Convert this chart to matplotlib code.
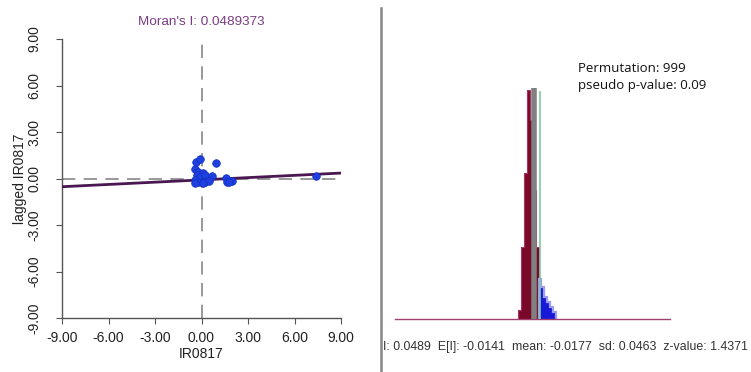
import matplotlib
matplotlib.use("Agg")
import matplotlib.pyplot as plt
import numpy as np

plt.rcParams['font.family'] = ['Liberation Sans', 'DejaVu Sans']

# ---- data: Moran scatter ----
x_vals = [-0.35, -0.10, 0.92, -0.42, -0.20, 0.12, -0.31, -0.10, 0.23, 0.70,
          1.56, -0.42, -0.14, 0.23, 0.50, -0.42, 0.12, 1.67, 1.95, 1.77, 7.39]
y_vals = [1.08, 1.26, 1.00, 0.59, 0.44, 0.33, 0.23, 0.12, 0.23, 0.16,
          0.05, -0.10, -0.20, -0.20, -0.14, -0.27, -0.27, -0.20, -0.14, -0.25, 0.16]
morans_i = 0.0489373
intercept = -0.09
ticks = [-9, -6, -3, 0, 3, 6, 9]
tick_labels = ["-9.00", "-6.00", "-3.00", "0.00", "3.00", "6.00", "9.00"]

# ---- data: permutation histogram ----
hist_counts = [9, 73, 148, 232, 202, 131, 73, 41, 32, 22, 17, 12, 7]
hist_start = -0.2023
bin_width = 0.0335
perm_mean = -0.0177
I_obs = 0.0489
stats_text = "I: 0.0489  E[I]: -0.0141  mean: -0.0177  sd: 0.0463  z-value: 1.4371"
perm_line1 = "Permutation: 999"
perm_line2 = "pseudo p-value: 0.09"

W, H = 751, 372
fig = plt.figure(figsize=(W/100, H/100), dpi=100)
renderer = fig.canvas.get_renderer()

def rect(l, t, r, b):
    return [l/W, 1-b/H, (r-l)/W, (b-t)/H]

def fit_text(t, target_px):
    bb = t.get_window_extent(renderer=renderer)
    t.set_fontsize(t.get_fontsize() * target_px / bb.width)

# ---- left panel ----
ax = fig.add_axes(rect(62, 39, 341, 318))
ax.set_xlim(-9, 9)
ax.set_ylim(-9, 9)
for s in ['top', 'right']:
    ax.spines[s].set_visible(False)
for s in ['left', 'bottom']:
    ax.spines[s].set_color('#555555')
    ax.spines[s].set_linewidth(1.0)
ax.set_xticks(ticks)
ax.set_xticklabels(tick_labels, fontsize=10, color='#222222')
ax.set_yticks(ticks)
ax.set_yticklabels(tick_labels, fontsize=10, color='#222222', rotation=90, va='center')
ax.tick_params(direction='out', length=4, color='#555555')
ax.tick_params(axis='x', pad=5)
ax.tick_params(axis='y', pad=11)
ax.axvline(0, color='#888888', lw=1.2, dashes=(8, 5))
ax.axhline(0, color='#888888', lw=1.2, dashes=(8, 5))
lx = np.array([-9, 9])
ax.plot(lx, intercept + morans_i*lx, color='#4a1850', lw=2.0, zorder=3)
ax.scatter(x_vals, y_vals, s=30, color='#1f3fe0', edgecolors='#1030c0', linewidths=0.5, zorder=4)
ax.set_title("Moran's I: 0.0489373", fontsize=9.7, color='#7a3c82', pad=10)
ax.set_xlabel("IR0817", fontsize=10, color='#222222', labelpad=2)
ax.set_ylabel("lagged IR0817", fontsize=10, color='#222222')
ax.yaxis.set_label_coords((27-62)/(341-62), 0.5)

# separator line
fig.add_artist(plt.Line2D([381/W, 381/W], [0, 1-8/H], transform=fig.transFigure,
                          color='#888888', lw=1.8))

# ---- right panel ----
ax2 = fig.add_axes(rect(395, 60, 670, 319))
px_per_unit = 85.6
xl = perm_mean + (395-534.3)/px_per_unit
xr = perm_mean + (670-534.3)/px_per_unit
ax2.set_xlim(xl, xr)
ymax = max(hist_counts) * (319-60) / (319-90)
ax2.set_ylim(0, ymax)
ax2.axis('off')
edges = hist_start + bin_width*np.arange(len(hist_counts)+1)
centers = edges[:-1] + bin_width/2
split = int(np.sum(centers <= I_obs))
red_counts = hist_counts[:split]
blue_counts = hist_counts[split:]
ax2.stairs(red_counts, edges[:split+1], fill=True, color='#7a0828', zorder=2)
ax2.stairs(red_counts, edges[:split+1], fill=False, color='#a83468', lw=0.8, zorder=2)
ax2.stairs(blue_counts, edges[split:], fill=True, color='#1818d8', zorder=2)
ax2.stairs(blue_counts, edges[split:], fill=False, color='#9c9cf0', lw=1.6, zorder=2)
ax2.plot([xl, xr], [0, 0], color='#a04070', lw=1.0, zorder=3, clip_on=False)
ax2.plot([perm_mean, perm_mean], [0, max(hist_counts)*1.01], color='#808080', lw=4, zorder=4,
         solid_capstyle='butt')
ax2.plot([I_obs, I_obs], [0, max(hist_counts)*0.99], color='#80c8a0', lw=1.2, zorder=4)

t1 = fig.text(578/W, 1-68/H, perm_line1, fontsize=10, color='#111111', va='center', ha='left',
              family=['Open Sans', 'DejaVu Sans'])
t2 = fig.text(578/W, 1-86/H, perm_line2, fontsize=10, color='#111111', va='center', ha='left',
              family=['Open Sans', 'DejaVu Sans'])
fit_text(t1, 107)
t2.set_fontsize(t1.get_fontsize())
t3 = fig.text(383/W, 1-347/H, stats_text, fontsize=10, color='#333333', va='center', ha='left')
fit_text(t3, 366)

fig.savefig('out.png', dpi=100)
